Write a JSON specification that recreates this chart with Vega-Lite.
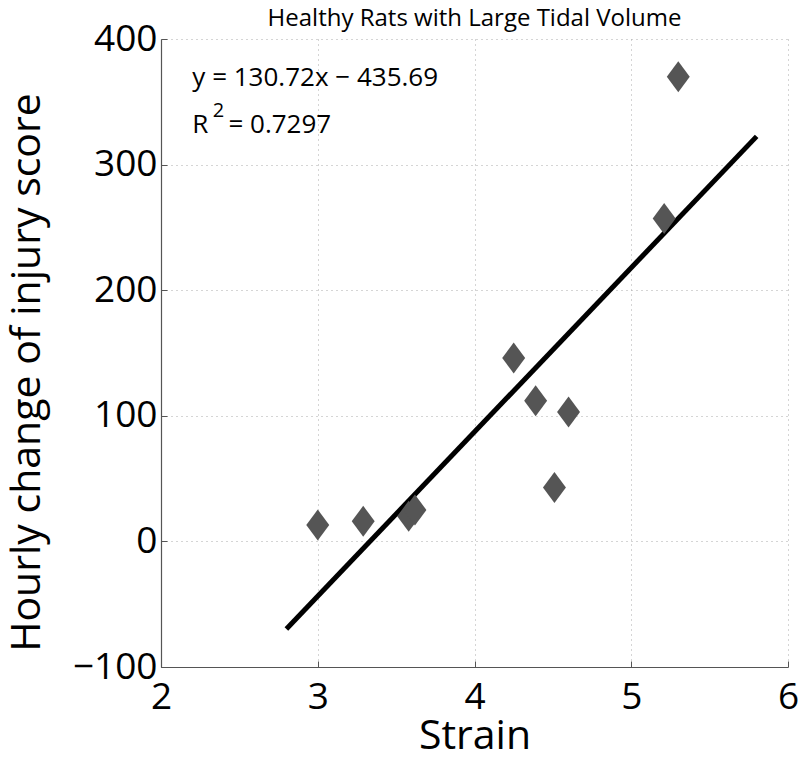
{
  "$schema": "https://vega.github.io/schema/vega-lite/v6.json",
  "width": 627,
  "height": 628,
  "autosize": {"type": "none"},
  "padding": {"left": 161, "top": 39, "right": 12, "bottom": 91},
  "background": "white",
  "config": {
    "font": "Open Sans",
    "view": {"stroke": null},
    "axis": {
      "labelFont": "Open Sans",
      "titleFont": "Open Sans",
      "labelColor": "black",
      "titleColor": "black",
      "titleFontWeight": "normal",
      "domainColor": "#555",
      "domainWidth": 1.2,
      "tickColor": "#555",
      "grid": true,
      "gridColor": "#aaa",
      "gridDash": [1, 4],
      "gridWidth": 1
    }
  },
  "title": {
    "text": "Healthy Rats with Large Tidal Volume",
    "font": "Open Sans",
    "fontSize": 24,
    "fontWeight": "normal",
    "color": "black",
    "offset": -11,
    "anchor": "middle"
  },
  "datasets": {
    "points": [
      {"strain": 3.0, "score": 13},
      {"strain": 3.29, "score": 16},
      {"strain": 3.58, "score": 20},
      {"strain": 3.62, "score": 25},
      {"strain": 4.25, "score": 146},
      {"strain": 4.39, "score": 112},
      {"strain": 4.6, "score": 103},
      {"strain": 4.51, "score": 43},
      {"strain": 5.21, "score": 257},
      {"strain": 5.3, "score": 370}
    ],
    "fit": [
      {"strain": 2.8, "score": -69.674},
      {"strain": 5.8, "score": 322.486}
    ],
    "notes": [
      {"strain": 2.2, "score": 369, "label": "y = 130.72x \u2212 435.69"}
    ]
  },
  "layer": [
    {
      "data": {"name": "fit"},
      "mark": {"type": "line", "color": "black", "strokeWidth": 5, "strokeCap": "butt"},
      "encoding": {
        "x": {
          "field": "strain", "type": "quantitative",
          "scale": {"domain": [2, 6], "nice": false, "zero": false},
          "axis": {
            "title": "Strain", "titleFontSize": 41, "titlePadding": 1,
            "labelFontSize": 37, "labelPadding": 18, "values": [2, 3, 4, 5, 6], "format": "d",
            "tickSize": -6, "labelFlush": false
          }
        },
        "y": {
          "field": "score", "type": "quantitative",
          "scale": {"domain": [-100, 400], "nice": false, "zero": false},
          "axis": {
            "title": "Hourly change of injury score", "titleFontSize": 41, "titlePadding": 24,
            "titleY": 333,
            "labelFontSize": 37, "labelPadding": 10, "values": [-100, 0, 100, 200, 300, 400],
            "tickSize": -6, "labelFlush": false
          }
        }
      }
    },
    {
      "data": {"name": "points"},
      "mark": {
        "type": "point",
        "shape": "M0,-1L0.74,0L0,1L-0.74,0Z",
        "filled": true,
        "color": "#555555",
        "opacity": 1,
        "size": 961
      },
      "encoding": {
        "x": {"field": "strain", "type": "quantitative"},
        "y": {"field": "score", "type": "quantitative"}
      }
    },
    {
      "data": {"name": "notes"},
      "mark": {"type": "text", "align": "left", "baseline": "middle", "fontSize": 26, "color": "black", "font": "Open Sans"},
      "encoding": {
        "x": {"field": "strain", "type": "quantitative"},
        "y": {"field": "score", "type": "quantitative"},
        "text": {"field": "label"}
      }
    },
    {
      "data": {"values": [{"strain": 2.2, "score": 331.5, "label": "R"}]},
      "mark": {"type": "text", "align": "left", "baseline": "middle", "fontSize": 26, "color": "black", "font": "Open Sans"},
      "encoding": {
        "x": {"field": "strain", "type": "quantitative"},
        "y": {"field": "score", "type": "quantitative"},
        "text": {"field": "label"}
      }
    },
    {
      "data": {"values": [{"strain": 2.33, "score": 343, "label": "2"}]},
      "mark": {"type": "text", "align": "left", "baseline": "middle", "fontSize": 20, "color": "black", "font": "Open Sans"},
      "encoding": {
        "x": {"field": "strain", "type": "quantitative"},
        "y": {"field": "score", "type": "quantitative"},
        "text": {"field": "label"}
      }
    },
    {
      "data": {"values": [{"strain": 2.43, "score": 331.5, "label": "= 0.7297"}]},
      "mark": {"type": "text", "align": "left", "baseline": "middle", "fontSize": 26, "color": "black", "font": "Open Sans"},
      "encoding": {
        "x": {"field": "strain", "type": "quantitative"},
        "y": {"field": "score", "type": "quantitative"},
        "text": {"field": "label"}
      }
    }
  ]
}
